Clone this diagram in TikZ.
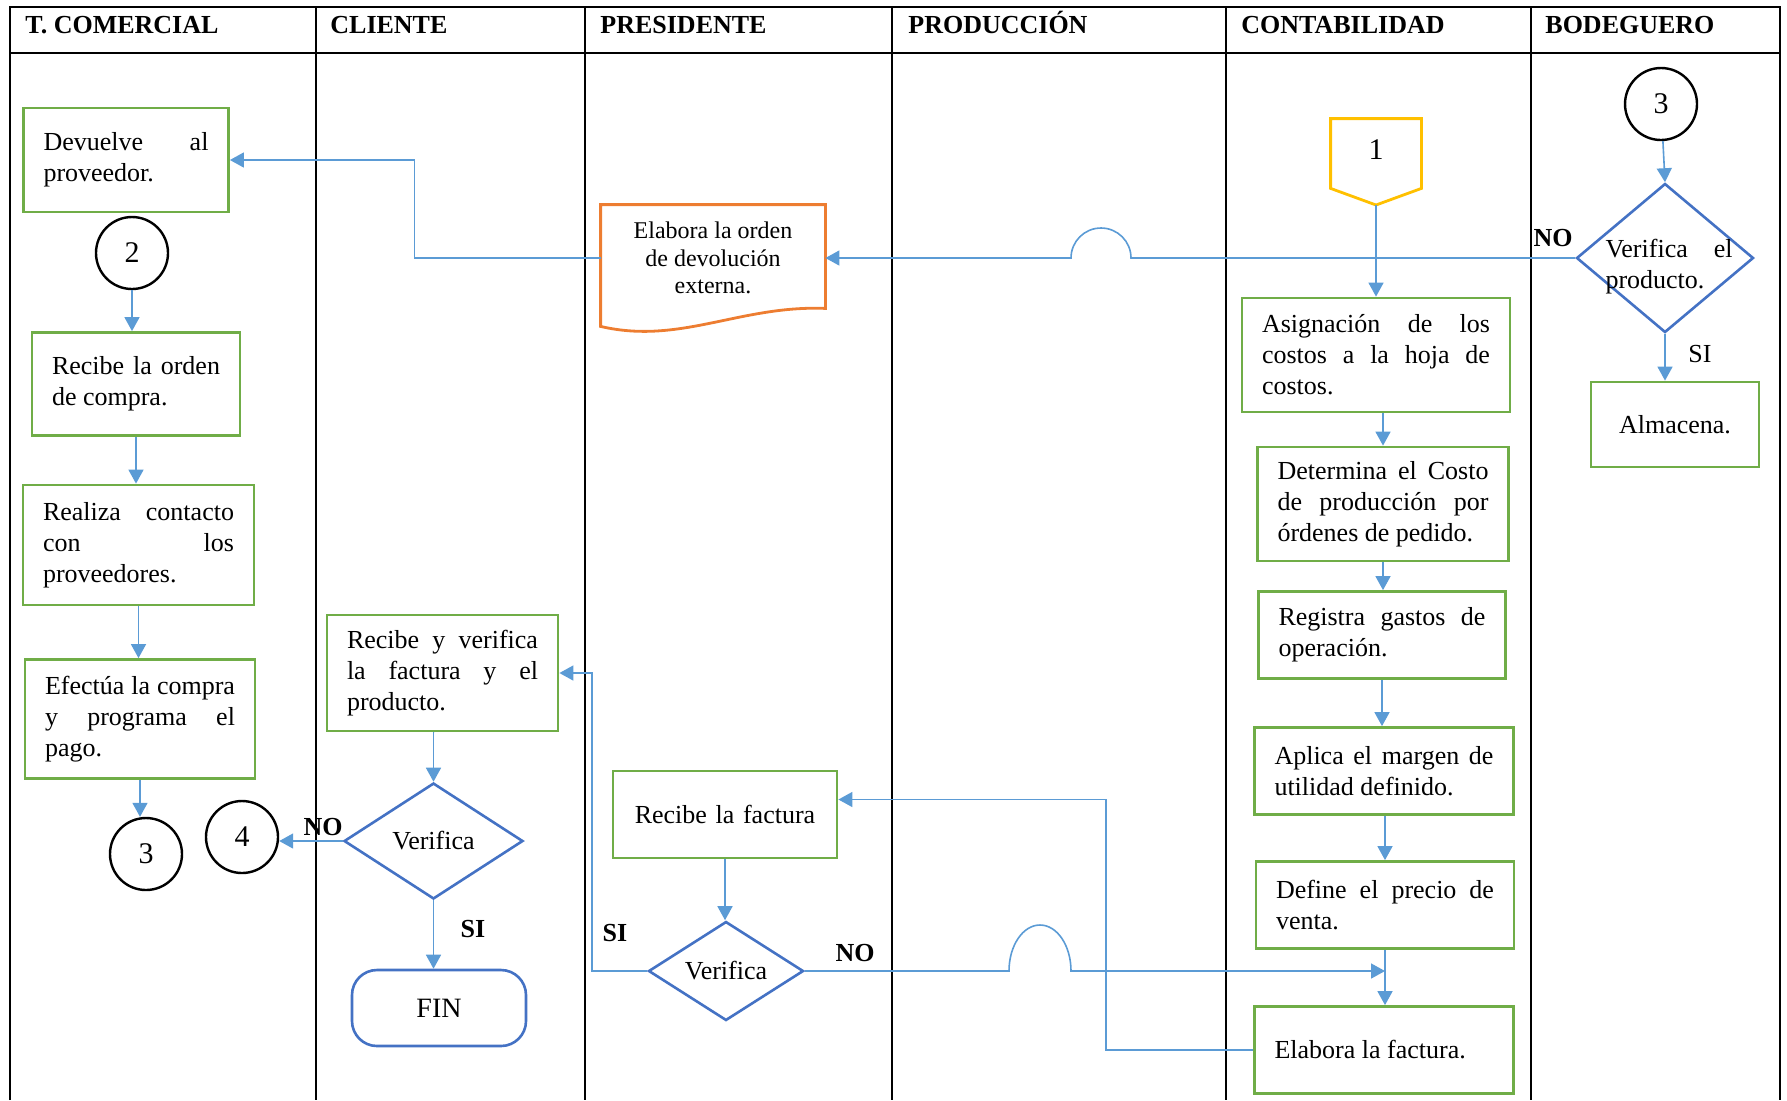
\documentclass[tikz,border=0pt]{standalone}
\usepackage{fontspec}
\setmainfont{Liberation Serif}
\usepackage{xcolor}
\usetikzlibrary{arrows.meta, shapes.geometric, calc}
\definecolor{procgreen}{RGB}{112,173,71}
\definecolor{decblue}{RGB}{68,114,196}
\definecolor{flowblue}{RGB}{91,155,213}
\definecolor{docorange}{RGB}{237,125,49}
\definecolor{offgold}{RGB}{255,192,0}
\hyphenpenalty=10000
\tolerance=10000

\begin{document}
\begin{tikzpicture}[
    x=0.5pt, y=-0.5pt,
    font=\fontsize{13}{15.5}\selectfont,
    laneline/.style={line width=1.1pt},
    lanehead/.style={anchor=base west, inner sep=0pt, font=\fontsize{13}{15.5}\selectfont\bfseries},
    procbox/.style={rectangle, draw=procgreen, line width=1.4pt, inner xsep=10pt, inner ysep=3pt, align=justify},
    decbox/.style={diamond, draw=decblue, line width=1.3pt, inner sep=0pt, shape aspect=1.55, align=center},
    conncirc/.style={circle, draw, line width=1.2pt, minimum size=36pt, inner sep=0pt, font=\fontsize{15}{17}\selectfont},
    flowline/.style={draw=flowblue, line width=0.8pt, -{Triangle[length=7pt, width=7.5pt]}},
    answer/.style={inner sep=1pt, font=\fontsize{13}{15.5}\selectfont\bfseries}
]
\useasboundingbox (0,0) rectangle (1787,1100);

\draw[laneline] (10,1100) -- (10,7) -- (1780,7) -- (1780,1100);
\draw[laneline] (10,53) -- (1780,53);
\foreach \x in {316,585,892,1226,1531}
    \draw[laneline] (\x,7) -- (\x,1100);
\foreach \x/\txt in {25/T. COMERCIAL, 330/CLIENTE, 600/PRESIDENTE, 908/PRODUCCIÓN, 1241/CONTABILIDAD, 1545/BODEGUERO}
    \node[lanehead] (hd\x) at (\x,33) {\txt};

\node[procbox, text width=82.5pt, minimum height=52pt] (devuelve) at (126,160) {Devuelve al\linebreak proveedor.};
\node[conncirc] (c2) at (132,253) {2};
\node[procbox, text width=84pt, minimum height=51.5pt] (recorden) at (136,384) {Recibe la orden\linebreak de compra.};
\node[procbox, text width=95.5pt, minimum height=60pt] (realiza) at (138.5,545) {Realiza contacto\linebreak con los\linebreak proveedores.};
\node[procbox, text width=95pt, minimum height=59.5pt] (efectua) at (140,719) {Efectúa la compra\linebreak y programa el\linebreak pago.};
\node[conncirc] (c3a) at (146,854) {3};
\node[conncirc] (c4) at (242,837) {4};

\node[procbox, text width=95.5pt, minimum height=58pt] (recver) at (442.5,673) {Recibe y verifica\linebreak la factura y el\linebreak producto.};
\node[decbox, minimum width=89.5pt, minimum height=58pt] (ver1) at (433.5,841) {Verifica};
\node[rectangle, rounded corners=12.5pt, draw=decblue, line width=1.3pt, minimum width=87pt, minimum height=38pt, font=\fontsize{14}{16}\selectfont] (fin) at (439,1008) {FIN};

\node[minimum width=112pt, minimum height=53pt, inner sep=0pt, align=center, font=\fontsize{12}{13.75}\selectfont] (devol) at (713,258) {Elabora la orden\\de devolución\\externa.};
\node[procbox, text width=92pt, minimum height=43.5pt, align=center] (rfac) at (725,814.5) {Recibe la factura};
\node[decbox, minimum width=77.5pt, minimum height=49.5pt] (ver2) at (726,971) {Verifica};

\node[minimum width=45pt, minimum height=34.5pt, inner sep=0pt, text depth=4pt, font=\fontsize{15}{17}\selectfont] (off1) at (1376,153.5) {1};
\coordinate (off1tip) at (1376,205);
\node[procbox, text width=114pt, minimum height=57pt] (asig) at (1376,355) {Asignación de los\linebreak costos a la hoja de\linebreak costos.};
\node[procbox, text width=105.5pt, minimum height=57pt] (determ) at (1383,504) {Determina el Costo\linebreak de producción por\linebreak órdenes de pedido.};
\node[procbox, text width=103.5pt, minimum height=43.5pt] (registra) at (1382,635) {Registra gastos de\linebreak operación.};
\node[procbox, text width=109.5pt, minimum height=43.5pt] (aplica) at (1384,771) {Aplica el margen de\linebreak utilidad definido.};
\node[procbox, text width=109pt, minimum height=43.5pt] (define) at (1385,905) {Define el precio de\linebreak venta.};
\node[procbox, text width=109.5pt, minimum height=43.5pt] (elabora) at (1384,1050) {Elabora la factura.};

\node[conncirc] (c3b) at (1661,104) {3};
\node[decbox, minimum width=88.5pt, minimum height=74.5pt] (ver3) at (1665,258) {};
\node[text width=63.5pt, inner sep=0pt, align=justify] (ver3txt) at (1669,267) {Verifica el\linebreak producto.};
\node[procbox, text width=64pt, minimum height=42.5pt, align=center] (almacena) at (1675,424.5) {Almacena.};

\draw[docorange, line width=1.4pt] ($(devol.south east)+(0,-3)$) -- (devol.north east) -- (devol.north west) -- ($(devol.south west)+(0,15)$)
    .. controls (680,345) and (740,305) .. ($(devol.south east)+(0,-3)$) -- cycle;
\draw[offgold, line width=1.4pt] (off1.north west) -- (off1.north east) -- (off1.south east) -- (off1tip) -- (off1.south west) -- cycle;

\node[answer] (no1) at (1553,238) {NO};
\node[answer, font=\fontsize{13}{15.5}\selectfont] (si1) at (1700,354) {SI};
\node[answer] (no2) at (323,827) {NO};
\node[answer] (si2) at (473,929) {SI};
\node[answer] (si3) at (615,933) {SI};
\node[answer] (no3) at (855,953) {NO};

\draw[flowline] (c2) -- (c2 |- recorden.north);
\draw[flowline] (recorden) -- (recorden |- realiza.north);
\draw[flowline] (realiza) -- (realiza |- efectua.north);
\draw[flowline] (efectua) -- (efectua |- c3a.north);

\draw[flowline] (recver) -- (recver.south -| ver1.north) -- (ver1.north);
\draw[flowline] (ver1.west) -- (ver1.west -| c4.east);
\draw[flowline] (ver1.south) -- (ver1.south |- fin.north);

\draw[flowline] (rfac) -- (rfac |- ver2.north);
\draw[flowline] (ver2.west) -- ++(-55,0) |- (recver.east);
\draw[flowline] (ver2.east) -- (1009,971) arc[start angle=180, end angle=0, x radius=15.5pt, y radius=23pt] -- (define.south |- ver2.east);
\draw[flowline] (elabora.west) -- ++(-147,0) |- ([yshift=7.5pt]rfac.east);

\draw[flowline] (off1tip) -- (off1tip |- asig.north);
\draw[flowline] (determ |- asig.south) -- (determ.north);
\draw[flowline] (determ) -- (determ |- registra.north);
\draw[flowline] (registra) -- (registra |- aplica.north);
\draw[flowline] (define |- aplica.south) -- (define.north);
\draw[flowline] (define) -- (define |- elabora.north);

\draw[flowline] (c3b) -- (ver3.north);
\draw[flowline] (ver3.south) -- (ver3.south |- almacena.north);
\draw[flowline] (ver3.west) -- (1131,258) arc[start angle=0, end angle=180, radius=15pt] -- (devol.east);
\draw[flowline] (devol.west) -- ++(-186,0) |- (devuelve.east);
\end{tikzpicture}
\end{document}
